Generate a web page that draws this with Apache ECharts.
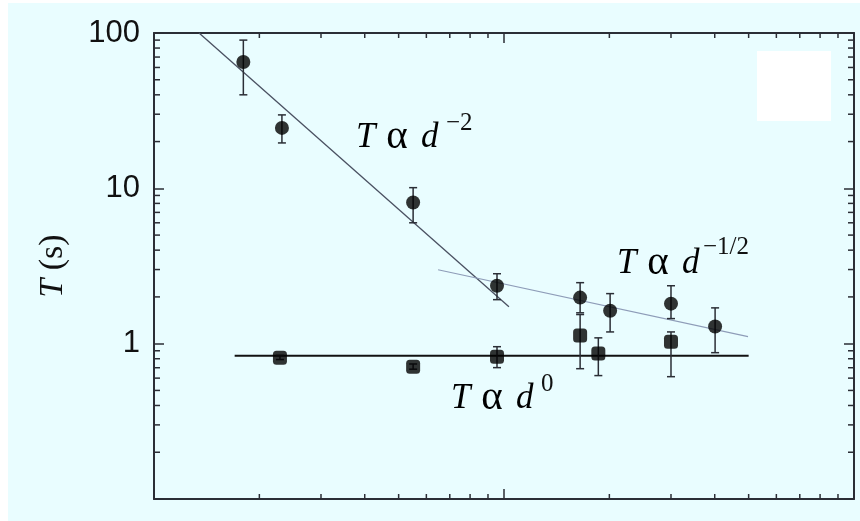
<!DOCTYPE html>
<html>
<head>
<meta charset="utf-8">
<title>T vs d</title>
<script src="https://cdn.jsdelivr.net/npm/echarts@6/dist/echarts.min.js"></script>
<style>
  html, body { margin: 0; padding: 0; background: #fff; }
  #chart { width: 860px; height: 521px; }
</style>
</head>
<body>
<div id="chart"></div>
<script>
// circles: T vs d with error bars
const circleX = [1.80, 2.32, 5.50, 9.55, 16.5, 20.1, 30.0, 40.1];
const circleY = [65, 24.5, 8.1, 2.36, 1.98, 1.63, 1.81, 1.29];
const circleLow = [40, 19.6, 6.0, 1.92, 1.58, 1.19, 1.45, 0.875];
const circleHigh = [90, 29.7, 10.1, 2.82, 2.47, 2.10, 2.36, 1.70];

// squares
const squareX = [2.29, 5.50, 9.55, 16.5, 18.6, 30.0];
const squareY = [0.813, 0.711, 0.825, 1.13, 0.863, 1.03];
const squareLow = [0.79, 0.685, 0.701, 0.69, 0.623, 0.613];
const squareHigh = [0.84, 0.74, 0.956, 1.54, 1.09, 1.19];

// fitted power laws (end points)
const fitSteepX = [1.345, 10.33];
const fitSteepY = [100, 1.73];
const fitShallowX = [6.48, 49.8];
const fitShallowY = [2.99, 1.11];
const fitFlatX = [1.70, 50];
const fitFlatY = [0.837, 0.837];

// log minor ticks
const xMinorTicks = [2, 3, 4, 5, 6, 7, 8, 9, 20, 30, 40, 50, 60, 70, 80, 90];
const yMinorTicks = [0.2, 0.3, 0.4, 0.5, 0.6, 0.7, 0.8, 0.9, 2, 3, 4, 5, 6, 7, 8, 9, 20, 30, 40, 50, 60, 70, 80, 90];

const X_MIN = 1, X_MAX = 100, Y_MIN = 0.1, Y_MAX = 100;
const axisColor = '#2b2e36';

const zip = (a, b) => a.map((v, i) => [v, b[i]]);
const zip3 = (a, b, c) => a.map((v, i) => [v, b[i], c[i]]);

const chart = echarts.init(document.getElementById('chart'), null, { renderer: 'canvas' });

// error bar drawing
function renderErr(params, api) {
  const top = api.coord([api.value(0), api.value(2)]);
  const bot = api.coord([api.value(0), api.value(1)]);
  const cap = 4;
  const st = { stroke: axisColor, lineWidth: 1.5 };
  return {
    type: 'group',
    children: [
      { type: 'line', shape: { x1: top[0], y1: top[1], x2: bot[0], y2: bot[1] }, style: st },
      { type: 'line', shape: { x1: top[0] - cap, y1: top[1], x2: top[0] + cap, y2: top[1] }, style: st },
      { type: 'line', shape: { x1: bot[0] - cap, y1: bot[1], x2: bot[0] + cap, y2: bot[1] }, style: st }
    ]
  };
}

// minor ticks on all four sides, inward
function renderMinor(params, api) {
  const children = [];
  const st = { stroke: axisColor, lineWidth: 1.5 };
  xMinorTicks.forEach(v => {
    const b = api.coord([v, Y_MIN]);
    const t = api.coord([v, Y_MAX]);
    children.push({ type: 'line', shape: { x1: b[0], y1: b[1], x2: b[0], y2: b[1] - 5 }, style: st });
    children.push({ type: 'line', shape: { x1: t[0], y1: t[1], x2: t[0], y2: t[1] + 5 }, style: st });
  });
  yMinorTicks.forEach(v => {
    const l = api.coord([X_MIN, v]);
    const r = api.coord([X_MAX, v]);
    children.push({ type: 'line', shape: { x1: l[0], y1: l[1], x2: l[0] + 6, y2: l[1] }, style: st });
    children.push({ type: 'line', shape: { x1: r[0], y1: r[1], x2: r[0] - 6, y2: r[1] }, style: st });
  });
  return { type: 'group', children: children };
}

const serif = '"Liberation Serif", "DejaVu Serif", serif';
const mathRich = {
  i: { fontFamily: serif, fontStyle: 'italic', fontSize: 35, color: '#111' },
  r: { fontFamily: serif, fontSize: 41, color: '#111', padding: [0, 3, 0, 2] }
};
const supStyle = { fontFamily: serif, fontSize: 25, fill: '#111' };
const mathText = '{i|T }{r|α }{i|d}';

const logAxisBase = {
  type: 'log',
  logBase: 10,
  axisLine: { show: true, lineStyle: { color: axisColor, width: 2 } },
  axisTick: { show: true, inside: true, length: 10, lineStyle: { color: axisColor, width: 1.5 } },
  splitLine: { show: false },
  minorTick: { show: false }
};

const option = {
  animation: false,
  grid: { left: 154, right: 6, top: 33, bottom: 22 },
  graphic: [
    // pale cyan page
    { type: 'rect', z: -10, left: 8, top: 3, shape: { width: 852, height: 518 }, style: { fill: '#e9fdff' } },
    // blank box top right
    { type: 'rect', z: 5, left: 757, top: 51, shape: { width: 74, height: 70 }, style: { fill: '#ffffff' } },
    // labels
    { type: 'text', z: 10, left: 356, top: 117, style: { text: mathText, rich: mathRich } },
    { type: 'text', z: 10, left: 446, top: 111, style: Object.assign({ text: '−2' }, supStyle) },
    { type: 'text', z: 10, left: 617, top: 243, style: { text: mathText, rich: mathRich } },
    { type: 'text', z: 10, left: 703, top: 235, style: Object.assign({ text: '−1/2' }, supStyle) },
    { type: 'text', z: 10, left: 451, top: 378, style: { text: mathText, rich: mathRich } },
    { type: 'text', z: 10, left: 541, top: 372, style: Object.assign({ text: '0' }, supStyle) }
  ],
  xAxis: [
    Object.assign({}, logAxisBase, { min: X_MIN, max: X_MAX, position: 'bottom', axisLabel: { show: false } }),
    Object.assign({}, logAxisBase, { min: X_MIN, max: X_MAX, position: 'top', axisLabel: { show: false } })
  ],
  yAxis: [
    Object.assign({}, logAxisBase, {
      min: Y_MIN, max: Y_MAX, position: 'left',
      name: '{i|T }{r|(s)}',
      nameLocation: 'middle',
      nameRotate: 90,
      nameGap: 84,
      nameTextStyle: {
        rich: {
          i: { fontFamily: serif, fontStyle: 'italic', fontSize: 34, color: '#111' },
          r: { fontFamily: serif, fontSize: 34, color: '#111' }
        }
      },
      axisLabel: {
        margin: 14,
        fontFamily: '"Liberation Sans", Arial, sans-serif',
        fontSize: 31,
        color: '#111',
        formatter: v => (v >= 0.999 ? String(Math.round(v)) : '')
      }
    }),
    Object.assign({}, logAxisBase, { min: Y_MIN, max: Y_MAX, position: 'right', axisLabel: { show: false } })
  ],
  series: [
    { type: 'custom', renderItem: renderMinor, data: [[X_MIN, Y_MIN]], silent: true, clip: false, z: 3 },
    {
      type: 'line', data: zip(fitSteepX, fitSteepY), showSymbol: false,
      lineStyle: { color: '#495061', width: 1.3 }, z: 2
    },
    {
      type: 'line', data: zip(fitShallowX, fitShallowY), showSymbol: false,
      lineStyle: { color: '#8e9cb8', width: 1.1 }, z: 2
    },
    {
      type: 'line', data: zip(fitFlatX, fitFlatY), showSymbol: false,
      lineStyle: { color: '#111', width: 2 }, z: 2
    },
    { type: 'custom', renderItem: renderErr, data: zip3(circleX, circleLow, circleHigh), encode: { x: 0, y: [1, 2] }, z: 4 },
    { type: 'custom', renderItem: renderErr, data: zip3(squareX, squareLow, squareHigh), encode: { x: 0, y: [1, 2] }, z: 4 },
    {
      type: 'scatter', data: zip(circleX, circleY), symbol: 'circle', symbolSize: 14,
      itemStyle: { color: '#000' }, z: 5
    },
    {
      type: 'scatter', data: zip(squareX, squareY), symbol: 'roundRect', symbolSize: 14,
      itemStyle: { color: '#000' }, z: 5
    }
  ]
};

chart.setOption(option);
</script>
</body>
</html>
